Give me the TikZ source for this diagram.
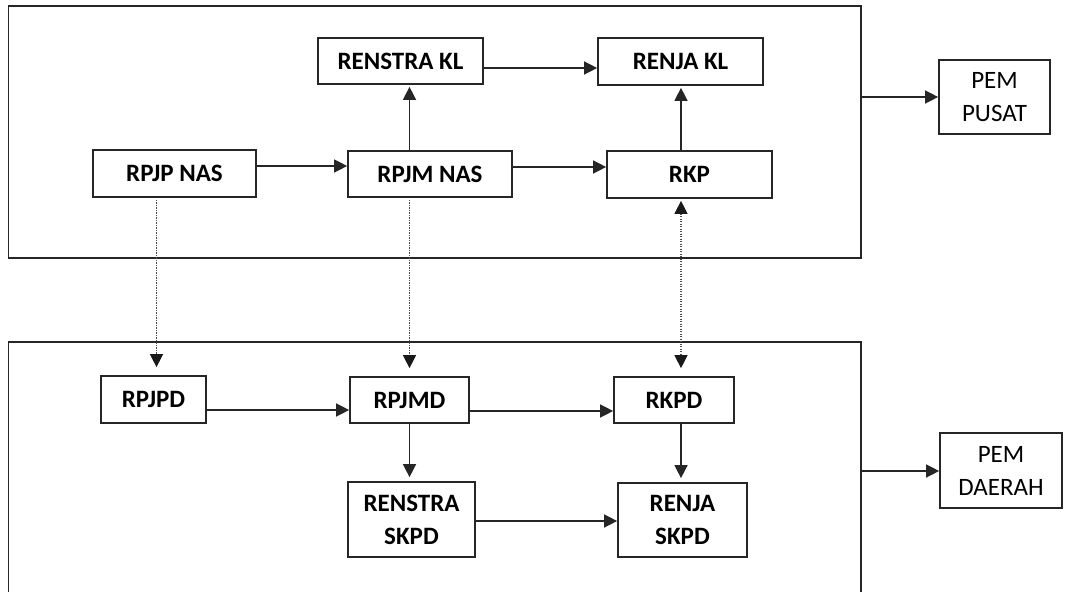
\documentclass[tikz,border=0pt]{standalone}
\usepackage{fontspec}
\setmainfont{Carlito}
\usetikzlibrary{arrows.meta,calc}
\begin{document}
\begin{tikzpicture}[x=1pt,y=-1pt,
  box/.style={draw=black!85, line width=1.7pt, inner sep=0pt, align=center,
    font=\fontsize{25}{33}\selectfont\bfseries},
  outbox/.style={draw=black!85, line width=1.7pt, inner sep=0pt, align=center,
    font=\fontsize{25}{33}\selectfont},
  frame/.style={draw=black!85, line width=1.7pt},
  tip/.style={-{Triangle[length=13pt,width=13pt]}},
  arr/.style={draw=black!85, line width=1.4pt, tip},
  dotarr/.style={draw=black!70, line width=1.2pt, dash pattern=on 1.2pt off 1.3pt,
    -{Triangle[length=13pt,width=13pt,color=black!90,fill=black!90]}},
  dotarr2/.style={draw=black!70, line width=1.2pt, dash pattern=on 1.2pt off 1.3pt,
    {Triangle[length=13pt,width=13pt,color=black!90,fill=black!90]}-{Triangle[length=13pt,width=13pt,color=black!90,fill=black!90]}}]
\useasboundingbox (0,0) rectangle (1067,591);
\fill[white] (0,0) rectangle (1067,591);

% frames
\node[frame, minimum width=852.5pt, minimum height=252pt, inner sep=0pt] (pusat) at (434.75,132) {};
\draw[frame] (8.5,595) -- (8.5,342) -- (861,342) -- (861,595);
\coordinate (dfr) at (861,471);

% central government boxes
\node[box, minimum width=165pt, minimum height=46pt] (renstrakl) at (400.5,61) {RENSTRA KL};
\node[box, minimum width=165pt, minimum height=47pt] (renjakl) at (680.5,61.5) {RENJA KL};
\node[box, minimum width=163pt, minimum height=47pt] (rpjpnas) at (174.5,173.5) {RPJP NAS};
\node[box, minimum width=164pt, minimum height=46pt] (rpjmnas) at (430,174) {RPJM NAS};
\node[box, minimum width=165pt, minimum height=47pt] (rkp) at (689.5,174.5) {RKP};
\node[outbox, minimum width=111pt, minimum height=74pt] (pempusat) at (994.5,97) {PEM\\PUSAT};

% regional boxes
\node[box, minimum width=105pt, minimum height=47pt] (rpjpd) at (153.5,399.5) {RPJPD};
\node[box, minimum width=119pt, minimum height=46pt] (rpjmd) at (409.5,400) {RPJMD};
\node[box, minimum width=120pt, minimum height=46pt] (rkpd) at (674,400) {RKPD};
\node[box, minimum width=127pt, minimum height=75pt] (renstraskpd) at (411.5,519.5) {RENSTRA\\SKPD};
\node[box, minimum width=129pt, minimum height=74pt] (renjaskpd) at (682.5,520) {RENJA\\SKPD};
\node[outbox, minimum width=122pt, minimum height=75pt] (pemdaerah) at (1001,470.5) {PEM\\DAERAH};

% helper coordinates
\coordinate (y1) at (0,68);
\coordinate (y2) at (0,166);
\coordinate (y3) at (0,167);
\coordinate (y4) at (0,410);
\coordinate (y5) at (0,411);
\coordinate (y6) at (0,521);
\coordinate (x1) at (156.5,0);
\coordinate (x2) at (409.5,0);
\coordinate (x3) at (681,0);

% top connectors
\draw[arr] (renstrakl.east |- y1) -- (renjakl.west |- y1);
\draw[arr] (rpjpnas.east |- y2) -- (rpjmnas.west |- y2);
\draw[arr] (rpjmnas.east |- y3) -- (rkp.west |- y3);
\draw[arr] (rpjmnas.north -| x2) -- ([yshift=-2pt]renstrakl.south -| x2);
\draw[arr] (rkp.north -| x3) -- ([yshift=-2pt]renjakl.south -| x3);
\draw[arr] (pusat.east |- pempusat) -- (pempusat.west);

% dotted links
\draw[dotarr] ([yshift=-2pt]rpjpnas.south -| x1) -- ([yshift=8pt]rpjpd.north -| x1);
\draw[dotarr] ([yshift=-2pt]rpjmnas.south -| x2) -- ([yshift=8pt]rpjmd.north -| x2);
\draw[dotarr2] ([yshift=-2pt]rkp.south -| x3) -- ([yshift=8pt]rkpd.north -| x3);

% bottom connectors
\draw[arr] (rpjpd.east |- y4) -- (rpjmd.west |- y4);
\draw[arr] (rpjmd.east |- y5) -- (rkpd.west |- y5);
\draw[arr] (renstraskpd.east |- y6) -- (renjaskpd.west |- y6);
\draw[arr] (rpjmd.south -| x2) -- ([yshift=4pt]renstraskpd.north -| x2);
\draw[arr] (rkpd.south -| x3) -- ([yshift=4pt]renjaskpd.north -| x3);
\draw[arr] (dfr) -- (pemdaerah.west |- dfr);
\end{tikzpicture}
\end{document}
